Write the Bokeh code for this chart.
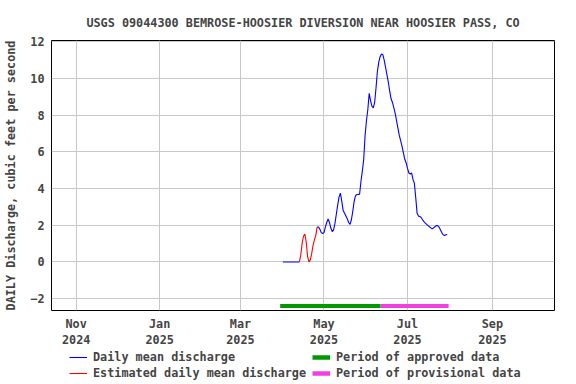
import pandas as pd
from bokeh.plotting import figure
from bokeh.layouts import column
from bokeh.models import Range1d, FixedTicker, Legend, LegendItem
from bokeh.embed import file_html
from bokeh.resources import INLINE

# ---------------- data ----------------
title_text = "USGS 09044300 BEMROSE-HOOSIER DIVERSION NEAR HOOSIER PASS, CO"
y_label = "DAILY Discharge, cubic feet per second"

first_day = "2025-04-01"
# daily mean discharge, cubic feet per second, Apr 1 .. Jul 30 2025
discharge = [
    0, 0, 0, 0, 0, 0, 0, 0, 0, 0, 0, 0, 0,            # Apr 1-13
    0.35, 1.0, 1.4, 1.52, 1.1, 0.3, 0.0, 0.1, 0.45,   # Apr 14-22
    0.9, 1.2, 1.45, 1.9,                             # Apr 23-26
    1.9, 1.78, 1.6, 1.55, 1.6,                       # Apr 27 - May 1
    1.9, 2.15, 2.34, 2.15, 1.85, 1.65, 1.75, 2.1, 2.6, 3.1,
    3.55, 3.75, 3.3, 2.8, 2.65, 2.5, 2.35, 2.15, 2.05, 2.3,
    2.75, 3.3, 3.6, 3.68, 3.68, 3.7, 4.4, 4.95, 5.6, 6.9,
    7.7,                                             # May 31
    8.3, 9.2, 8.8, 8.5, 8.4, 8.7, 9.5, 10.4, 10.9, 11.2,
    11.35, 11.3, 11.0, 10.6, 10.2, 9.8, 9.3, 8.9, 8.7, 8.4,
    8.1, 7.7, 7.3, 6.9, 6.6, 6.3, 5.95, 5.6, 5.4, 5.1,   # Jun 30
    4.85, 4.8, 4.85, 4.5, 4.3, 3.5, 2.65, 2.5, 2.48, 2.42,
    2.3, 2.2, 2.12, 2.05, 1.98, 1.92, 1.86, 1.8, 1.86, 1.92,
    1.98, 1.98, 1.9, 1.75, 1.6, 1.48, 1.44, 1.48, 1.5,
]
estimated_start = "2025-04-13"
estimated_end = "2025-04-26"

approved_period = ["2025-03-30", "2025-06-11"]
provisional_period = ["2025-06-11", "2025-07-31"]
period_bar_level = -2.4

x_tick_dates = ["2024-11-01", "2025-01-01", "2025-03-01",
                "2025-05-01", "2025-07-01", "2025-09-01"]
x_tick_labels = ["Nov\n2024", "Jan\n2025", "Mar\n2025",
                 "May\n2025", "Jul\n2025", "Sep\n2025"]
y_ticks = [-2, 0, 2, 4, 6, 8, 10, 12]
x_limits = ["2024-10-14", "2025-10-16 08:00"]
y_limits = [-2.65, 12.08]

series_labels = ["Daily mean discharge", "Estimated daily mean discharge",
                 "Period of approved data", "Period of provisional data"]

# ---------------- styles ----------------
BLUE, RED, GREEN, PINK = "#0000ff", "#ff0000", "#009900", "#f040e0"
FONT = "DejaVu Sans Mono"
FS = "11.8px"

# ---------------- derived ----------------
dates = pd.date_range(first_day, periods=len(discharge), freq="D")
series = pd.Series(discharge, index=dates, dtype=float)
est_mask = (series.index >= pd.Timestamp(estimated_start)) & (series.index <= pd.Timestamp(estimated_end))
inner_est = (series.index > pd.Timestamp(estimated_start)) & (series.index < pd.Timestamp(estimated_end))
blue_vals = series.where(~inner_est)
red_vals = series.where(est_mask)

p = figure(
    x_axis_type="datetime",
    width=576, height=350,
    min_border_left=51, min_border_right=22, min_border_top=40, min_border_bottom=38,
    x_range=Range1d(pd.Timestamp(x_limits[0]), pd.Timestamp(x_limits[1])),
    y_range=Range1d(y_limits[0], y_limits[1]),
    output_backend="svg", toolbar_location=None,
    title=title_text,
)

p.title.text_font = FONT
p.title.text_font_size = FS
p.title.text_font_style = "bold"
p.title.align = "center"
p.title.offset = 4
p.title.standoff = 21

p.outline_line_color = "black"
p.outline_line_width = 1
p.background_fill_color = "white"
p.border_fill_color = "white"

tick_ms = [pd.Timestamp(d).value // 10**6 for d in x_tick_dates]
p.xaxis.ticker = FixedTicker(ticks=tick_ms)
p.xaxis.major_label_overrides = {t: lab for t, lab in zip(tick_ms, x_tick_labels)}
p.yaxis.ticker = FixedTicker(ticks=y_ticks)
p.yaxis.axis_label = y_label

for ax in (p.xaxis[0], p.yaxis[0]):
    ax.axis_line_color = None
    ax.major_tick_line_color = None
    ax.minor_tick_line_color = None
    ax.major_tick_out = 0
    ax.major_tick_in = 0
    ax.major_label_text_font = FONT
    ax.major_label_text_font_size = FS
    ax.major_label_text_font_style = "bold"
    ax.axis_label_text_font = FONT
    ax.axis_label_text_font_size = FS
    ax.axis_label_text_font_style = "bold"
p.xaxis.major_label_standoff = 6
p.yaxis.major_label_standoff = 7
p.yaxis.axis_label_standoff = 9

p.xgrid.ticker = FixedTicker(ticks=tick_ms)
p.ygrid.ticker = FixedTicker(ticks=y_ticks)
p.xgrid.grid_line_color = "#c8c8c8"
p.ygrid.grid_line_color = "#c8c8c8"
p.xgrid.grid_line_width = 1
p.ygrid.grid_line_width = 1

p.line(dates, blue_vals.values, line_color=BLUE, line_width=1.1)
p.line(dates, red_vals.values, line_color=RED, line_width=1.1)
p.line([pd.Timestamp(d) for d in approved_period], [period_bar_level] * 2,
       line_color=GREEN, line_width=4)
p.line([pd.Timestamp(d) for d in provisional_period], [period_bar_level] * 2,
       line_color=PINK, line_width=4)

# ---------------- legend strip (legend-only renderers, no visible data) ----------------
lf = figure(
    width=576, height=34,
    min_border_left=0, min_border_right=0, min_border_top=0, min_border_bottom=0,
    x_range=Range1d(0, 1), y_range=Range1d(0, 1),
    x_axis_location=None, y_axis_location=None,
    output_backend="svg", toolbar_location=None,
)
lf.outline_line_color = None
lf.xgrid.visible = False
lf.ygrid.visible = False
lf.background_fill_color = "white"
lf.border_fill_color = "white"

nan = float("nan")
styles = [(BLUE, 1.1), (RED, 1.1), (GREEN, 4.5), (PINK, 4.5)]
items = []
for lab, (col, lw) in zip(series_labels, styles):
    r = lf.line(x=[nan, nan], y=[nan, nan], line_color=col, line_width=lw)
    items.append(LegendItem(label=lab, renderers=[r]))

legend = Legend(
    items=items,
    ncols=2,
    location=(18, 4),
    margin=0, padding=0, spacing=2,
    glyph_width=18, glyph_height=14, label_height=14, label_width=217,
    label_standoff=6,
    label_text_font=FONT, label_text_font_size=FS, label_text_font_style="bold",
    border_line_color=None, background_fill_alpha=0,
)
lf.add_layout(legend, "center")

layout = column(p, lf, spacing=0)
open("out.html", "w").write(file_html(layout, INLINE))
